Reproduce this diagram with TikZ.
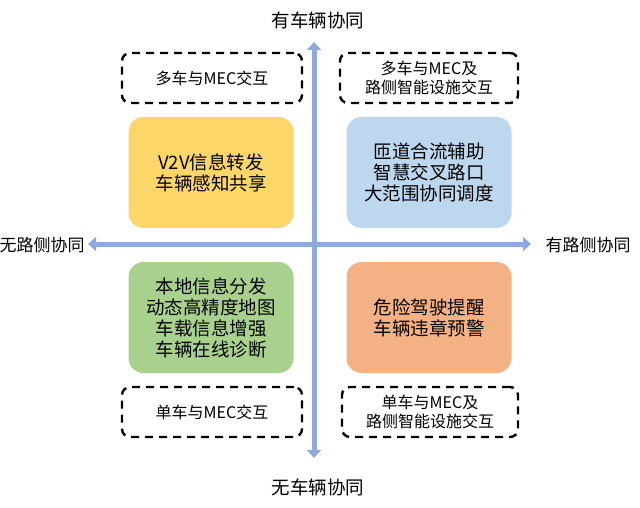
\documentclass[tikz,border=0pt]{standalone}
\usepackage{fontspec}
\setmainfont{Noto Sans CJK SC}
\usetikzlibrary{arrows.meta}
\definecolor{axisblue}{HTML}{8EAADB}
\definecolor{cyellow}{HTML}{FCD669}
\definecolor{cblue}{HTML}{BDD7EE}
\definecolor{cgreen}{HTML}{A9D18E}
\definecolor{corange}{HTML}{F4B183}
\tikzset{
  quad/.style={rounded corners=15pt, minimum width=165pt, minimum height=111pt, align=center, font=\fontsize{18.5}{21}\selectfont, inner sep=0pt},
  dbox/.style={draw=black, line width=2.4pt, dash pattern=on 8pt off 6pt, rounded corners=8pt, minimum height=50pt, align=center, font=\fontsize{16}{19}\selectfont, inner sep=0pt},
  axlabel/.style={font=\fontsize{18.5}{20}\selectfont, inner sep=0pt},
  sidelabel/.style={font=\fontsize{17}{20}\selectfont, inner sep=0pt},
  axis/.style={line width=5pt, draw=axisblue, {Triangle[width=14pt,length=8pt]}-{Triangle[width=14pt,length=8pt]}}
}
\begin{document}
\begin{tikzpicture}[x=1pt,y=-1pt]
\useasboundingbox (0,0) rectangle (640,508);
\fill[white] (0,0) rectangle (640,508);
\coordinate (vt) at (314,42);
\coordinate (vb) at (314,458);
\coordinate (hl) at (88,244);
\coordinate (hr) at (531,244);
\draw[axis] (vt) -- (vb);
\draw[axis] (hl) -- (hr);
\node[axlabel] (top) at (318,20) {有车辆协同};
\node[axlabel] (bottom) at (318,487) {无车辆协同};
\node[sidelabel] (left) at (42,245) {无路侧协同};
\node[sidelabel] (right) at (588,245) {有路侧协同};
\node[quad, fill=cyellow] (q1) at (211,172.5) {V2V信息转发\\车辆感知共享};
\node[quad, fill=cblue] (q2) at (429,172.5) {匝道合流辅助\\智慧交叉路口\\大范围协同调度};
\node[quad, fill=cgreen] (q3) at (211,317.5) {本地信息分发\\动态高精度地图\\车载信息增强\\车辆在线诊断};
\node[quad, fill=corange] (q4) at (429,317.5) {危险驾驶提醒\\车辆违章预警};
\node[dbox, minimum width=180pt] (d1) at (212,78) {多车与MEC交互};
\node[dbox, minimum width=178pt] (d2) at (429,78) {多车与MEC及\\路侧智能设施交互};
\node[dbox, minimum width=180pt] (d3) at (212,412) {单车与MEC交互};
\node[dbox, minimum width=176pt] (d4) at (430,412) {单车与MEC及\\路侧智能设施交互};
\end{tikzpicture}
\end{document}
